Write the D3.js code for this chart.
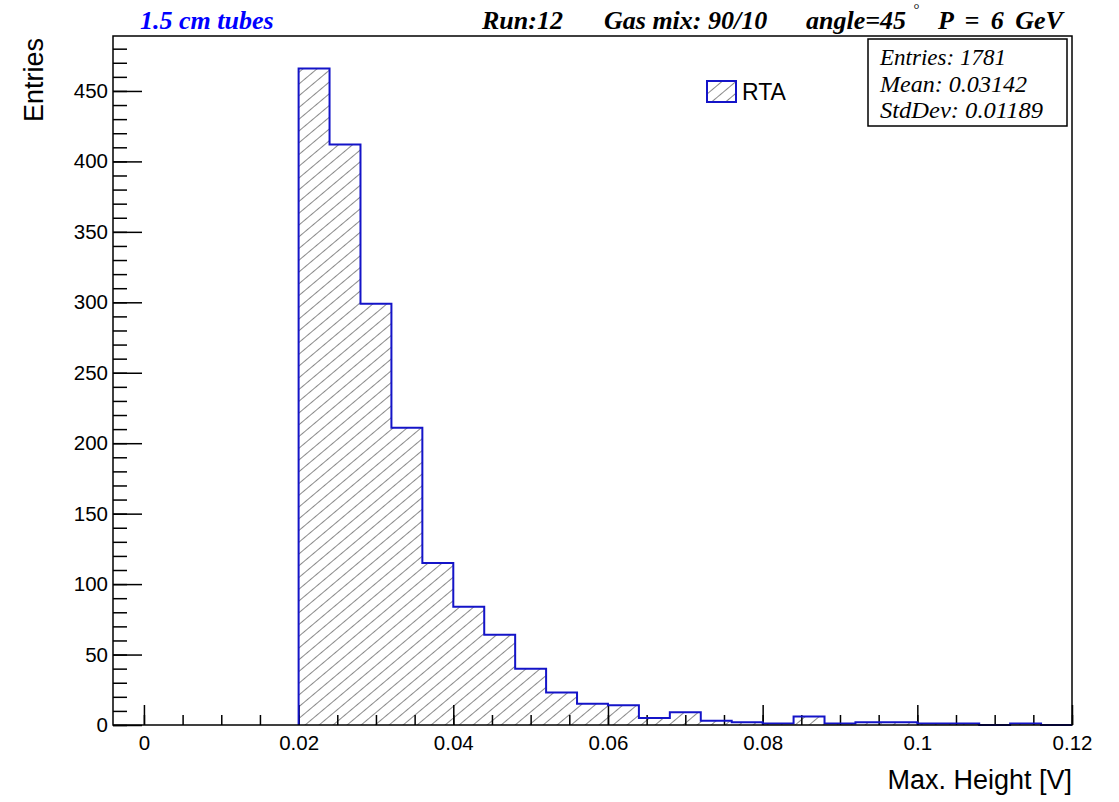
<!DOCTYPE html>
<html>
<head>
<meta charset="utf-8">
<script src="https://cdn.jsdelivr.net/npm/d3@7"></script>
<style>
  body { margin: 0; background: #fff; }
  text { font-family: "Liberation Sans", Arial, sans-serif; }
  .serif { font-family: "Liberation Serif", "Times New Roman", serif; font-style: italic; }
</style>
</head>
<body>
<svg id="chart" width="1119" height="802"></svg>
<script>
// bin edges of the histogram (V) and entries per bin
const binEdges = [0.020, 0.024, 0.028, 0.032, 0.036, 0.040, 0.044, 0.048, 0.052,
    0.056, 0.060, 0.064, 0.068, 0.072, 0.076, 0.080, 0.084, 0.088, 0.092,
    0.096, 0.100, 0.104, 0.108, 0.112, 0.116, 0.120];
const counts = [466, 412, 299, 211, 115, 84, 64, 40, 23, 15, 14, 5, 9, 3, 2,
    1, 6, 1, 2, 2, 1, 1, 0, 1, 0];

const xMajor = [0, 0.02, 0.04, 0.06, 0.08, 0.1, 0.12];
const yMajor = [0, 50, 100, 150, 200, 250, 300, 350, 400, 450];

const titleParts = ["Run:12", "Gas mix: 90/10", "angle=45", "P = 6 GeV"];
const statLines = ["Entries: 1781", "Mean: 0.03142", "StdDev: 0.01189"];

const frame = {left: 113, right: 1072, top: 36, bottom: 725};

const svg = d3.select("#chart");

const x = d3.scaleLinear().domain([-0.004, 0.12]).range([frame.left, frame.right]);
const y = d3.scaleLinear().domain([0, 489]).range([frame.bottom, frame.top]);

// hatch pattern like ROOT fill style 3004
const defs = svg.append("defs");
const pat = defs.append("pattern")
    .attr("id", "hatch")
    .attr("patternUnits", "userSpaceOnUse")
    .attr("width", 9).attr("height", 9)
    .attr("patternTransform", "rotate(-40)");
pat.append("line")
    .attr("x1", 0).attr("y1", 4.5).attr("x2", 9).attr("y2", 4.5)
    .attr("stroke", "#8a8a8a").attr("stroke-width", 1);

// histogram outline points
let pts = [[binEdges[0], 0]];
counts.forEach(function (c, i) {
    pts.push([binEdges[i], c]);
    pts.push([binEdges[i + 1], c]);
});
pts.push([binEdges[binEdges.length - 1], 0]);

let line = d3.line()
    .x(function (d) { return x(d[0]); })
    .y(function (d) { return y(d[1]); });

svg.append("path")
    .attr("d", line(pts) + "Z")
    .attr("fill", "url(#hatch)")
    .attr("stroke", "none");

// axes
let minorX = d3.range(0, 25).map(function (i) { return i * 0.005; });
let minorY = d3.range(0, 49).map(function (i) { return i * 10; });

let gx = svg.append("g").attr("transform", "translate(0," + frame.bottom + ")");
gx.call(d3.axisBottom(x).tickValues(minorX).tickSize(-10).tickFormat(""));
gx.select(".domain").remove();
let gx2 = svg.append("g").attr("transform", "translate(0," + frame.bottom + ")");
gx2.call(d3.axisBottom(x).tickValues(xMajor).tickSize(-20).tickPadding(10)
    .tickFormat(function (d) { return String(+d.toFixed(2)); }));
gx2.select(".domain").remove();

let gy = svg.append("g").attr("transform", "translate(" + frame.left + ",0)");
gy.call(d3.axisLeft(y).tickValues(minorY).tickSize(-14).tickFormat(""));
gy.select(".domain").remove();
let gy2 = svg.append("g").attr("transform", "translate(" + frame.left + ",0)");
gy2.call(d3.axisLeft(y).tickValues(yMajor).tickSize(-29).tickPadding(5));
gy2.select(".domain").remove();

svg.selectAll(".tick line").attr("stroke", "#000").attr("stroke-width", 1.5);
svg.selectAll(".tick text").attr("font-size", 20.5).attr("fill", "#000")
    .attr("font-family", "Liberation Sans, Arial, sans-serif");

// histogram outline on top of ticks
svg.append("path")
    .attr("d", line(pts))
    .attr("fill", "none")
    .attr("stroke", "#1414c8")
    .attr("stroke-width", 2);

// frame
svg.append("rect")
    .attr("x", frame.left).attr("y", frame.top)
    .attr("width", frame.right - frame.left).attr("height", frame.bottom - frame.top)
    .attr("fill", "none").attr("stroke", "#000").attr("stroke-width", 1.5);

// axis titles
svg.append("text")
    .attr("x", frame.right).attr("y", 789)
    .attr("text-anchor", "end")
    .attr("font-size", 27)
    .text("Max. Height [V]");

svg.append("text")
    .attr("transform", "translate(43," + (frame.top + 2) + ") rotate(-90)")
    .attr("text-anchor", "end")
    .attr("font-size", 27)
    .text("Entries");

// title line
svg.append("text").attr("class", "serif")
    .attr("x", 140).attr("y", 29)
    .attr("font-size", 26).attr("font-weight", "bold")
    .attr("fill", "#0000ff")
    .text("1.5 cm tubes");

let titleX = [482, 604, 806, 938];
let titleWordSp = [0, 0, 0, 5];
svg.selectAll(".tpart").data(titleParts).enter().append("text")
    .attr("class", "serif tpart")
    .attr("x", function (d, i) { return titleX[i]; })
    .attr("y", 29)
    .attr("font-size", 26).attr("font-weight", "bold")
    .attr("word-spacing", function (d, i) { return titleWordSp[i]; })
    .text(function (d) { return d; });

svg.append("text").attr("class", "serif")
    .attr("x", 913).attr("y", 14)
    .attr("font-size", 15)
    .text("\u00b0");

// stats box
svg.append("rect")
    .attr("x", 868).attr("y", 39).attr("width", 199).attr("height", 87)
    .attr("fill", "#fff").attr("stroke", "#000").attr("stroke-width", 1.5);
let statW = [126, 147, 163];
svg.selectAll(".stat").data(statLines).enter().append("text")
    .attr("class", "serif stat")
    .attr("x", 880)
    .attr("y", function (d, i) { return 65 + i * 26.5; })
    .attr("font-size", 24)
    .attr("textLength", function (d, i) { return statW[i]; })
    .attr("lengthAdjust", "spacingAndGlyphs")
    .text(function (d) { return d; });

// legend
svg.append("rect")
    .attr("x", 707).attr("y", 81).attr("width", 29).attr("height", 21)
    .attr("fill", "url(#hatch)").attr("stroke", "#1414c8").attr("stroke-width", 2);
svg.append("text")
    .attr("x", 742).attr("y", 100)
    .attr("font-size", 23)
    .text("RTA");
</script>
</body>
</html>
